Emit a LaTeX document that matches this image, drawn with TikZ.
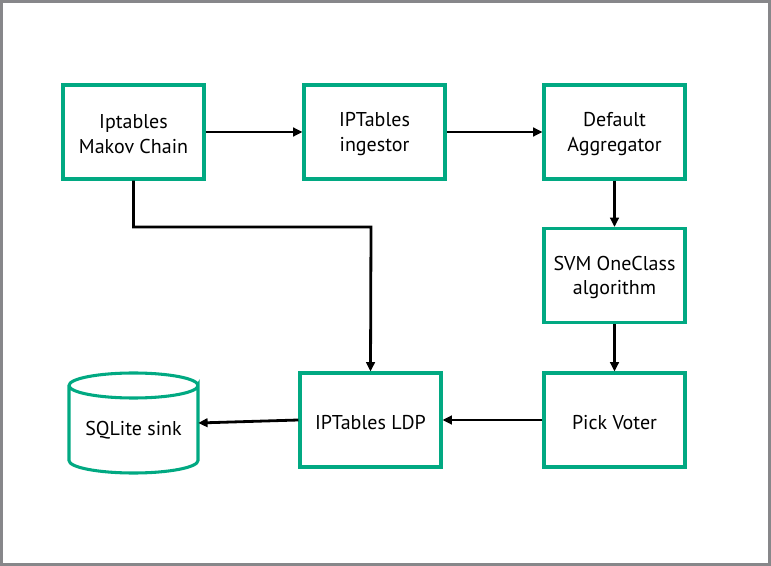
\documentclass[tikz,border=0pt]{standalone}
\usepackage{fontspec}
\setmainfont{PT Sans}
\usetikzlibrary{arrows.meta}
\definecolor{hpegreen}{HTML}{01A982}
\definecolor{framegray}{HTML}{87878A}
\tikzset{
  px/.style={x=0.75pt,y=-0.75pt},
  txt/.style={align=center,inner sep=0pt,font=\fontsize{15}{18.4}\selectfont},
  blk/.style={draw=hpegreen,line width=2.3pt,minimum width=141*0.75pt,minimum height=94*0.75pt,inner sep=0pt},
  blab/.style={label={[txt,yshift=-1.6pt]center:#1}},
  conn/.style={draw=black,line width=2.1pt,-{Triangle[length=7pt,width=6.5pt]}},
}
\begin{document}
\begin{tikzpicture}[px]
\useasboundingbox (0,0) rectangle (771,566);
\draw[framegray,line width=2.25pt] (1.5,1.5) rectangle (769.5,564.5);
\node[blk,blab={Iptables\\Makov Chain}] (mc)  at (133.5,132) {};
\node[blk,blab={IPTables\\ingestor}] (ing) at (374.5,132) {};
\node[blk,blab={Default\\Aggregator}] (agg) at (614.5,132) {};
\node[blk,blab={SVM OneClass\\algorithm}] (svm) at (614.5,275.5) {};
\node[blk,blab={Pick Voter}] (pv)  at (614.5,420) {};
\node[blk,blab={IPTables LDP}] (ldp) at (370.5,420) {};
% cylinder
\node[minimum width=129*0.75pt,minimum height=100*0.75pt,inner sep=0pt] (sink) at (133.5,423) {};
\draw[hpegreen,line width=2.3pt]
  (69,385.5) -- (69,460.5) arc[start angle=180,end angle=0,x radius=64.5,y radius=12.5]
  -- (198,385.5) arc[start angle=0,end angle=360,x radius=64.5,y radius=12.5];
\node[txt] (sinklbl) at (133.5,430) {SQLite sink};
% connectors
\draw[conn] (mc.east) -- (ing.west);
\draw[conn] (ing.east) -- (agg.west);
\draw[conn] (agg.south) -- (svm.north);
\draw[conn] (svm.south) -- (pv.north);
\draw[conn] (pv.west) -- (ldp.east);
\draw[conn] (mc.south) |- (371,227) -- (ldp.north);
\draw[conn] (ldp.west) -- (sink.east);
\end{tikzpicture}
\end{document}
